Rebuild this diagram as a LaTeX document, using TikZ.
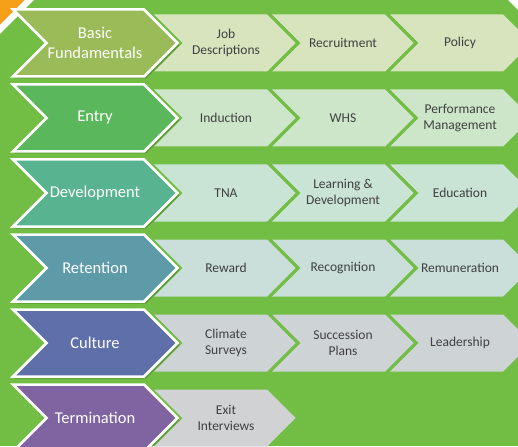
\documentclass[tikz,border=0pt]{standalone}
\usepackage{fontspec}
\setmainfont{Carlito}
\definecolor{bg}{RGB}{114,189,68}
\definecolor{orng}{RGB}{246,160,26}
\definecolor{txt}{RGB}{64,64,64}
\definecolor{mA}{RGB}{155,187,89}
\definecolor{mB}{RGB}{91,183,92}
\definecolor{mC}{RGB}{88,179,145}
\definecolor{mD}{RGB}{93,155,169}
\definecolor{mE}{RGB}{95,111,170}
\definecolor{mF}{RGB}{128,100,162}
\definecolor{sA}{RGB}{215,228,189}
\definecolor{sB}{RGB}{205,230,202}
\definecolor{sC}{RGB}{201,227,213}
\definecolor{sD}{RGB}{202,222,218}
\definecolor{sE}{RGB}{206,211,214}
\definecolor{sF}{RGB}{208,210,212}
\newcommand\subchev[3]{%
  \fill[#3] (#1,#2-28.5) -- ++(113,0) -- ++(28.5,28.5) -- ++(-28.5,28.5) -- ++(-113,0) -- ++(28.5,-28.5) -- cycle;}
\newcommand\mainchev[2]{%
  \fill[black,opacity=0.18] (14.5,#1-31.5) -- (146,#1-31.5) -- (179.5,#1+2) -- (146,#1+35.5) -- (14.5,#1+35.5) -- (48,#1+2) -- cycle;
  \filldraw[fill=#2,draw=white,line width=2.5pt,line join=miter] (13,#1-33.5) -- (144,#1-33.5) -- (177.5,#1) -- (144,#1+33.5) -- (13,#1+33.5) -- (46.5,#1) -- cycle;}
\begin{document}
\begin{tikzpicture}[x=1pt,y=-1pt,
  maintext/.style={text=white,font=\fontsize{16.5}{19.5}\selectfont,align=center,inner sep=0pt},
  subtext/.style={text=txt,font=\fontsize{13.5}{15.5}\selectfont,align=center,inner sep=0pt}]
\useasboundingbox (0,0) rectangle (518,446);
\begin{scope}
\clip (0,0) rectangle (518,446);
\fill[bg] (0,0) rectangle (518,446);
\fill[orng] (0,0) -- (25,0) -- (0,25) -- cycle;
\fill[white] (25,0) -- (34,0) -- (0,34) -- (0,25) -- cycle;
\fill[white] (508,0) -- (518,0) -- (518,10) -- cycle;
% row 1
\subchev{154}{43}{sA}\subchev{272}{43}{sA}\subchev{390}{43}{sA}
\mainchev{43}{mA}
% row 2
\subchev{154}{118}{sB}\subchev{272}{118}{sB}\subchev{390}{118}{sB}
\mainchev{118}{mB}
% row 3
\subchev{154}{193}{sC}\subchev{272}{193}{sC}\subchev{390}{193}{sC}
\mainchev{193}{mC}
% row 4
\subchev{154}{268}{sD}\subchev{272}{268}{sD}\subchev{390}{268}{sD}
\mainchev{268}{mD}
% row 5
\subchev{154}{343}{sE}\subchev{272}{343}{sE}\subchev{390}{343}{sE}
\mainchev{343}{mE}
% row 6
\subchev{154}{418}{sF}
\mainchev{418}{mF}
\end{scope}
\node[maintext] (m1) at (95,43) {Basic\\Fundamentals};
\node[maintext] (m2) at (95,118) {Entry};
\node[maintext] (m3) at (95,193) {Development};
\node[maintext] (m4) at (95,268) {Retention};
\node[maintext] (m5) at (95,343) {Culture};
\node[maintext] (m6) at (95,418) {Termination};
\node[subtext] (s11) at (226,43) {Job\\Descriptions};
\node[subtext] (s12) at (343,43) {Recruitment};
\node[subtext] (s13) at (460,43) {Policy};
\node[subtext] (s21) at (226,118) {Induction};
\node[subtext] (s22) at (343,118) {WHS};
\node[subtext] (s23) at (460,118) {Performance\\Management};
\node[subtext] (s31) at (226,193) {TNA};
\node[subtext] (s32) at (343,193) {Learning \&\\Development};
\node[subtext] (s33) at (460,193) {Education};
\node[subtext] (s41) at (226,268) {Reward};
\node[subtext] (s42) at (343,268) {Recognition};
\node[subtext] (s43) at (460,268) {Remuneration};
\node[subtext] (s51) at (226,343) {Climate\\Surveys};
\node[subtext] (s52) at (343,343) {Succession\\Plans};
\node[subtext] (s53) at (460,343) {Leadership};
\node[subtext] (s61) at (226,418) {Exit\\Interviews};
\end{tikzpicture}
\end{document}
